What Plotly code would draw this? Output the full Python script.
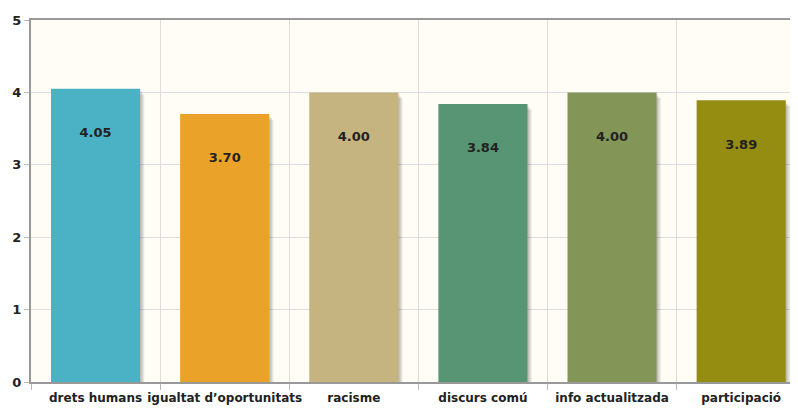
import plotly.graph_objects as go

categories = ["drets humans", "igualtat d\u2019oportunitats", "racisme",
              "discurs com\u00fa", "info actualitzada", "participaci\u00f3"]
values = [4.05, 3.70, 4.00, 3.84, 4.00, 3.89]
labels = ["4.05", "3.70", "4.00", "3.84", "4.00", "3.89"]
colors = ["#4bb2c5", "#EAA228", "#c5b47f", "#579575", "#839557", "#958c12"]

FONT = "DejaVu Sans"
bar_w = 0.69
px = 1 / 129.3  # one pixel in category units

fig = go.Figure()

# soft drop shadow like jqPlot: a few stacked translucent copies
for k in (1, 2, 3):
    fig.add_trace(go.Bar(
        x=categories, y=[v - 0.013 * k for v in values],
        base=[-0.013 * k] * len(values),
        width=bar_w, offset=-bar_w / 2 + 1.4 * k * px,
        marker=dict(color="rgba(0,0,0,0.09)", line=dict(width=0)),
        hoverinfo="skip", showlegend=False,
    ))

fig.add_trace(go.Bar(
    x=categories, y=values, width=bar_w, offset=-bar_w / 2,
    marker=dict(color=colors, line=dict(width=0)),
    showlegend=False,
))

# value labels sit a bit inside the top of each bar
fig.add_trace(go.Scatter(
    x=categories, y=[v - 0.62 for v in values], mode="text", text=labels,
    textfont=dict(family=FONT, size=13, color="#222", weight="bold"),
    hoverinfo="skip", showlegend=False,
))

# page body has an 8px margin, so the figure is a bit smaller than the window
fig.update_layout(
    width=790, height=400,
    margin=dict(l=23, r=0, t=12, b=26),
    paper_bgcolor="white", plot_bgcolor="#fffdf6",
    barmode="overlay",
    font=dict(family=FONT, size=12, color="#222"),
)
fig.update_xaxes(
    type="category", range=[-0.5, 5.44], automargin=False, tickangle=0,
    tickson="boundaries", ticks="outside", ticklen=6, tickcolor="#bbbbbb",
    ticklabelstandoff=4,
    showgrid=True, gridcolor="#dddddd", gridwidth=1,
    showline=True, linecolor="#999999", linewidth=2, mirror=True,
    tickfont=dict(family=FONT, size=12, color="#222", weight="bold"),
)
fig.update_yaxes(
    range=[0, 5], dtick=1, automargin=False,
    ticks="outside", ticklen=5, tickcolor="#bbbbbb",
    showgrid=True, gridcolor="#dddddd", gridwidth=1, zeroline=False,
    showline=True, linecolor="#999999", linewidth=2, mirror=True,
    tickfont=dict(family=FONT, size=13, color="#222", weight="bold"),
)

fig.write_html("out.html")
